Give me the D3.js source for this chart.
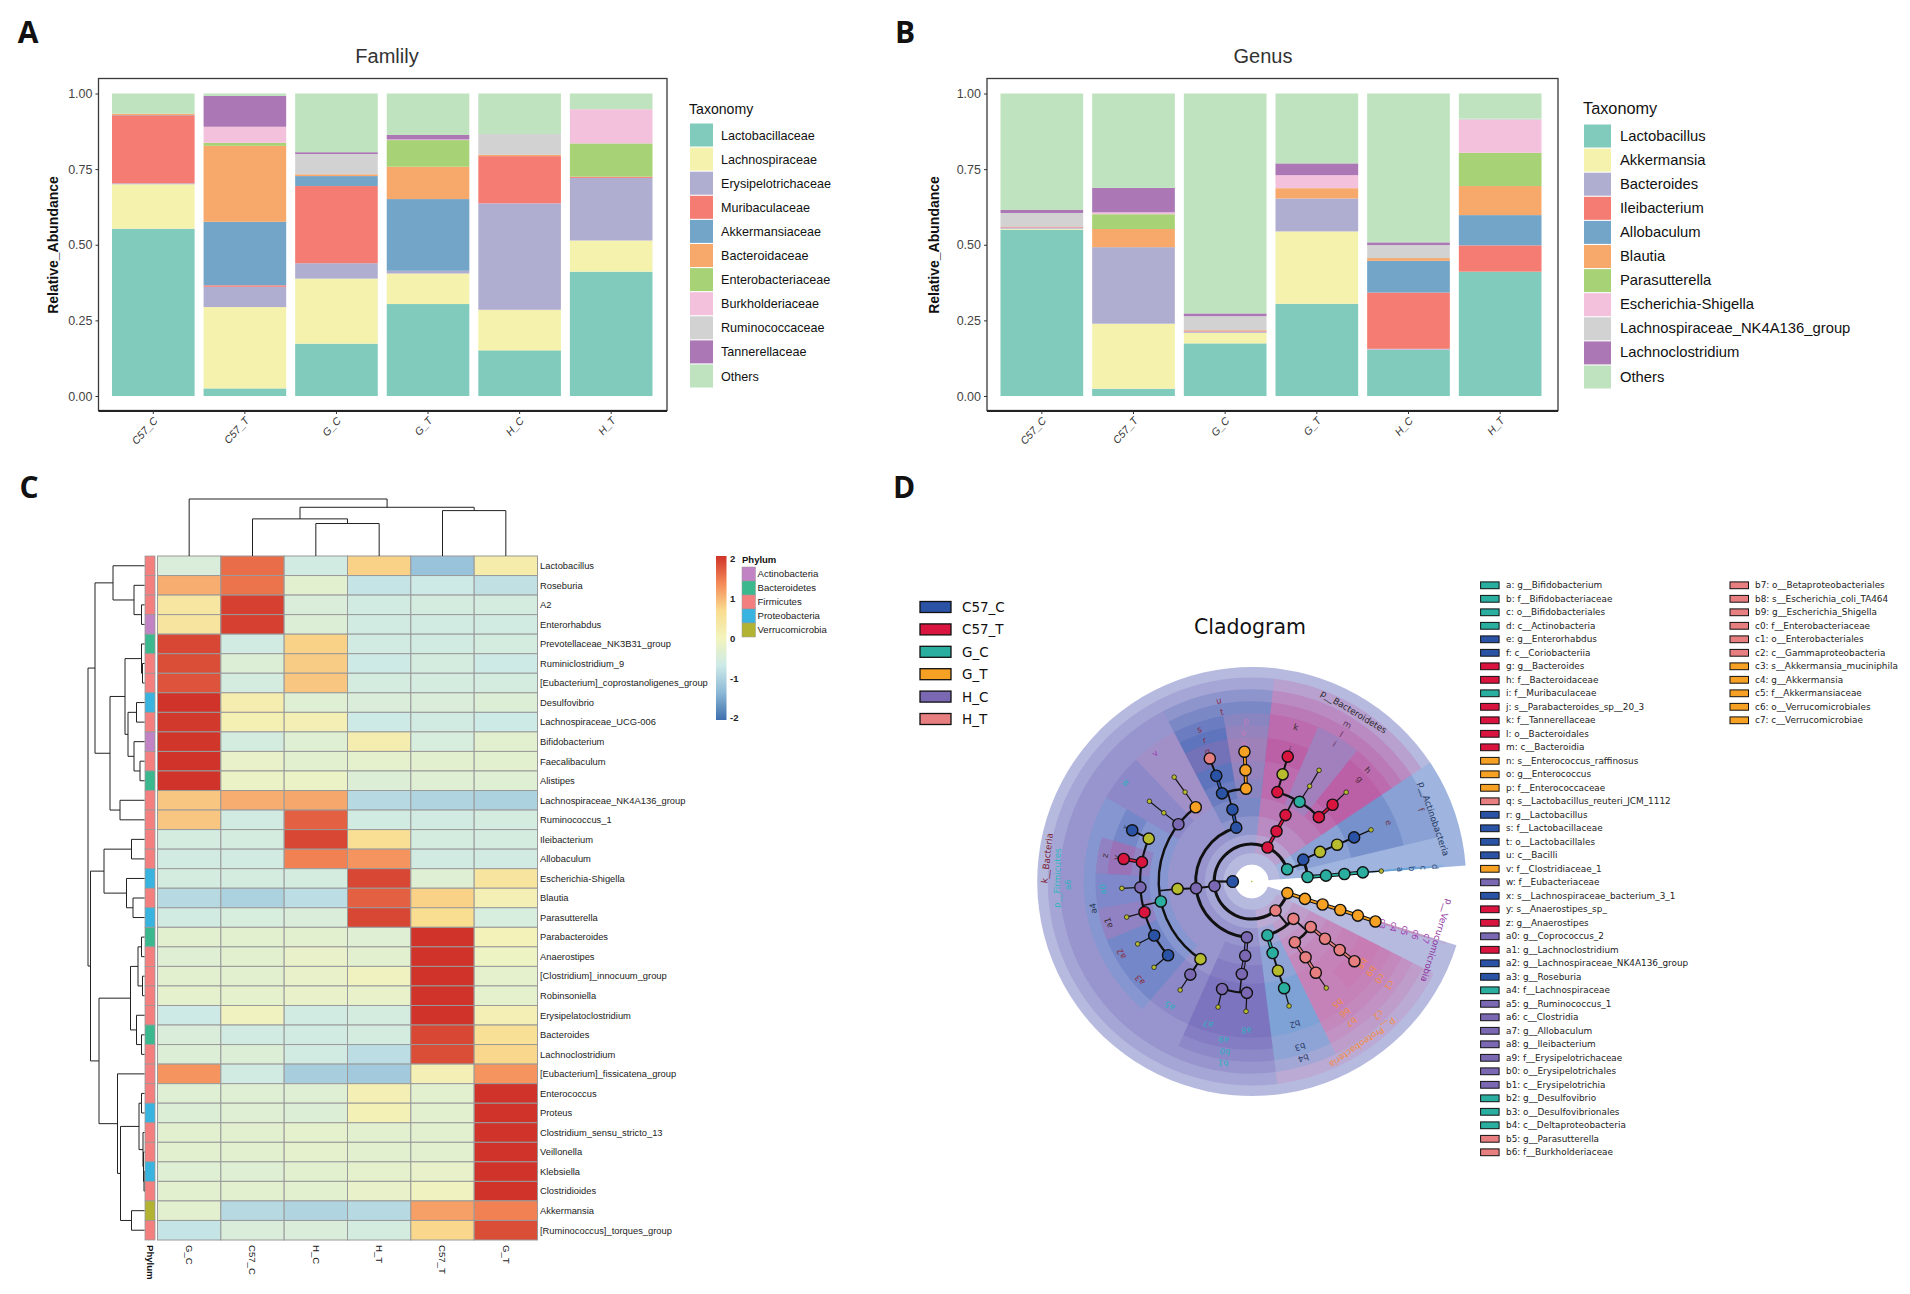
<!DOCTYPE html>
<html><head><meta charset="utf-8">
<script src="https://cdn.jsdelivr.net/npm/d3@7"></script>
<style>html,body{margin:0;padding:0;background:#fff}svg{display:block}</style>
</head><body><svg id="c" width="1910" height="1294"></svg>
<script>
// ---------- Data ----------
const samples = ["C57_C","C57_T","G_C","G_T","H_C","H_T"];
const yTicks = [0,0.25,0.5,0.75,1];
const familyNames = ["Lactobacillaceae","Lachnospiraceae","Erysipelotrichaceae","Muribaculaceae","Akkermansiaceae","Bacteroidaceae","Enterobacteriaceae","Burkholderiaceae","Ruminococcaceae","Tannerellaceae","Others"];
const familyValues = [
 [.553,.147,.003,.225,.001,.004,0,0,0,0,.067],
 [.025,.269,.067,.005,.21,.251,.01,.053,0,.102,.008],
 [.173,.215,.051,.255,.033,.006,0,0,.067,.006,.194],
 [.304,.101,.009,0,.237,.107,.088,.002,0,.015,.137],
 [.151,.134,.352,.156,0,.004,0,0,.069,0,.134],
 [.411,.103,.207,.003,0,.001,.11,.113,0,0,.052]];
const genusNames = ["Lactobacillus","Akkermansia","Bacteroides","Ileibacterium","Allobaculum","Blautia","Parasutterella","Escherichia-Shigella","Lachnospiraceae_NK4A136_group","Lachnoclostridium","Others"];
const genusValues = [
 [.55,.003,.004,.002,.001,.001,0,0,.044,.01,.385],
 [.024,.215,.253,0,0,.06,.049,.006,0,.081,.312],
 [.174,.035,.004,.002,.001,.002,0,0,.046,.009,.727],
 [.305,.239,.109,0,0,.034,0,.043,0,.039,.231],
 [.152,.001,.003,.186,.105,.009,0,0,.043,.009,.492],
 [.411,0,0,.087,.1,.096,.11,.109,.004,0,.083]];
const taxaColors = ["#80cbbc","#f4f2ad","#b0aed0","#f47c72","#73a5c9","#f6a96a","#a7d275","#f4c1dc","#d2d2d2","#ab78b5","#bfe2bf"];

const heatCols = ["G_C","C57_C","H_C","H_T","C57_T","G_T"];
const heatRows = ["Lactobacillus","Roseburia","A2","Enterorhabdus","Prevotellaceae_NK3B31_group","Ruminiclostridium_9","[Eubacterium]_coprostanoligenes_group","Desulfovibrio","Lachnospiraceae_UCG-006","Bifidobacterium","Faecalibaculum","Alistipes","Lachnospiraceae_NK4A136_group","Ruminococcus_1","Ileibacterium","Allobaculum","Escherichia-Shigella","Blautia","Parasutterella","Parabacteroides","Anaerostipes","[Clostridium]_innocuum_group","Robinsoniella","Erysipelatoclostridium","Bacteroides","Lachnoclostridium","[Eubacterium]_fissicatena_group","Enterococcus","Proteus","Clostridium_sensu_stricto_13","Veillonella","Klebsiella","Clostridioides","Akkermansia","[Ruminococcus]_torques_group"];
const heatValues = [
 [-.45,1.55,-.6,.75,-1.2,.25],[1.05,1.5,-.3,-.75,-.65,-.8],[.4,1.9,-.45,-.6,-.55,-.55],[.45,1.9,-.4,-.6,-.6,-.6],
 [1.85,-.6,.75,-.6,-.6,-.55],[1.8,-.4,.8,-.65,-.55,-.65],[1.75,-.55,.85,-.55,-.55,-.55],[2,.2,-.35,-.45,-.45,-.4],
 [1.95,.15,.1,-.65,-.6,-.65],[1.98,-.55,-.35,.2,-.5,-.3],[2,-.2,-.3,-.25,-.3,-.3],[2,-.15,-.15,-.4,-.35,-.35],
 [.85,1.05,1.1,-.9,-.95,-1],[.85,-.6,1.65,-.6,-.6,-.55],[-.55,-.55,1.85,.6,-.55,-.55],[-.6,-.6,1.4,1.25,-.6,-.6],
 [-.55,-.55,-.55,1.85,-.35,.45],[-.9,-1,-.85,1.65,.75,.1],[-.6,-.5,-.45,1.85,.65,-.5],[-.3,-.3,-.3,-.35,2,.05],
 [-.35,-.3,-.2,-.3,2,-.1],[-.3,-.3,-.2,-.05,2,-.25],[-.25,-.25,-.2,-.2,2,-.25],[-.65,-.05,-.6,-.55,2,.1],
 [-.45,-.6,-.6,-.55,1.85,.55],[-.4,-.4,-.6,-.85,1.8,.7],[1.25,-.6,-1.05,-1.1,.1,1.25],[-.35,-.35,-.35,.1,-.3,2],
 [-.4,-.35,-.4,.08,-.3,2],[-.3,-.3,-.25,-.3,-.3,2],[-.3,-.3,-.25,-.3,-.3,2],[-.35,-.35,-.3,-.25,-.2,2],
 [-.3,-.3,-.3,-.2,-.05,2],[-.3,-.9,-.95,-.9,1.15,1.4],[-.75,-.45,-.45,-.55,.7,1.8]];
const phylumNames = ["Actinobacteria","Bacteroidetes","Firmicutes","Proteobacteria","Verrucomicrobia"];
const phylumColors = ["#c183c3","#3cb88e","#f47f7f","#39b4e0","#b2b332"];
const rowPhylum = [2,2,2,0,1,2,2,3,2,0,2,1,2,2,2,2,3,2,3,1,2,2,2,2,1,2,2,2,3,2,2,3,2,4,2];
const heatTicks = [-2,-1,0,1,2];
// dendrograms: [height, childA, childB]; a number is a row / column index
const colTree = [172,0,[147,[112,1,[98,2,3]],[137,4,5]]];
const rowTree = [113,
 [99,[63,0,[21,1,[6,2,3]]],[69,[39,[6,4,[4,5,6]],[33,[16,7,8],[21,9,[9,10,11]]]],[49,12,13]]],
 [108,[81,[26,14,15],[36,16,[23,17,18]]],
  [91,[28,[13,[6,19,20],[4,21,22]],[16,23,[6,24,25]]],
      [54,26,[48,[11,[6,27,28],[3,29,[2,30,[1,31,32]]]],[26,33,34]]]]]];

const groupNames = ["C57_C","C57_T","G_C","G_T","H_C","H_T"];
const groupColors = ["#2a52a5","#d9143f","#2aae9f","#f6a123","#7a68b3","#e77e7f"];
const sectorColors = ["#2a4fa8","#be2f8c","#3a9ad8","#c878b0","#5f4fae","#cf66a4"];
const taxonLegend = [
["a","g__Bifidobacterium","G_C"],["b","f__Bifidobacteriaceae","G_C"],["c","o__Bifidobacteriales","G_C"],["d","c__Actinobacteria","G_C"],
["e","g__Enterorhabdus","C57_C"],["f","c__Coriobacteriia","C57_C"],["g","g__Bacteroides","C57_T"],["h","f__Bacteroidaceae","C57_T"],
["i","f__Muribaculaceae","G_C"],["j","s__Parabacteroides_sp__20_3","C57_T"],["k","f__Tannerellaceae","C57_T"],["l","o__Bacteroidales","C57_T"],
["m","c__Bacteroidia","C57_T"],["n","s__Enterococcus_raffinosus","G_T"],["o","g__Enterococcus","G_T"],["p","f__Enterococcaceae","G_T"],
["q","s__Lactobacillus_reuteri_JCM_1112","H_T"],["r","g__Lactobacillus","C57_C"],["s","f__Lactobacillaceae","C57_C"],["t","o__Lactobacillales","C57_C"],
["u","c__Bacilli","C57_C"],["v","f__Clostridiaceae_1","G_T"],["w","f__Eubacteriaceae","H_C"],["x","s__Lachnospiraceae_bacterium_3_1","C57_C"],
["y","s__Anaerostipes_sp_","C57_T"],["z","g__Anaerostipes","C57_T"],["a0","g__Coprococcus_2","H_C"],["a1","g__Lachnoclostridium","C57_T"],
["a2","g__Lachnospiraceae_NK4A136_group","C57_C"],["a3","g__Roseburia","C57_C"],["a4","f__Lachnospiraceae","G_C"],["a5","g__Ruminococcus_1","H_C"],
["a6","c__Clostridia","H_C"],["a7","g__Allobaculum","H_C"],["a8","g__Ileibacterium","H_C"],["a9","f__Erysipelotrichaceae","H_C"],
["b0","o__Erysipelotrichales","H_C"],["b1","c__Erysipelotrichia","H_C"],["b2","g__Desulfovibrio","G_C"],["b3","o__Desulfovibrionales","G_C"],
["b4","c__Deltaproteobacteria","G_C"],["b5","g__Parasutterella","H_T"],["b6","f__Burkholderiaceae","H_T"],
["b7","o__Betaproteobacteriales","H_T"],["b8","s__Escherichia_coli_TA464","H_T"],["b9","g__Escherichia_Shigella","H_T"],["c0","f__Enterobacteriaceae","H_T"],
["c1","o__Enterobacteriales","H_T"],["c2","c__Gammaproteobacteria","H_T"],["c3","s__Akkermansia_muciniphila","G_T"],["c4","g__Akkermansia","G_T"],
["c5","f__Akkermansiaceae","G_T"],["c6","o__Verrucomicrobiales","G_T"],["c7","c__Verrucomicrobiae","G_T"]];

// cladogram nodes: id, parent, taxonomic level, angle (deg), group (null = not enriched), tiny leaf?
const cladeNodes = [
["K",null,1,180,"C57_C"],
["pAct","K",2,19,"G_C"],["pBac","K",2,65,"C57_T"],["pFir","K",2,187,"H_C"],["pPro","K",2,309.5,"H_T"],["pVer","K",2,342,"G_T"],
["f","pAct",3,23,"C57_C"],["f1","f",4,23.4,null],["f2","f1",5,23.3,null],["e","f2",6,23.3,"C57_C"],["e1","e",7,23.4,null,1],
["d","pAct",3,4.6,"G_C"],["c","d",4,4.5,"G_C"],["b","c",5,4.6,"G_C"],["a","b",6,4.7,"G_C"],["a_","a",7,4.6,null,1],
["m","pBac",3,63.7,"C57_T"],["l","m",4,63,"C57_T"],
["i","l",5,59,"G_C"],["i1","i",6,58.7,null,1],["i2","i1",7,58.8,null,1],
["k","l",5,74,"C57_T"],["k1","k",6,73.9,null],["j","k1",7,73.9,"C57_T"],
["h","l",5,43.8,"C57_T"],["g","h",6,43.5,"C57_T"],["g1","g",7,43.4,null,1],
["u","pFir",3,106,"C57_C"],["t","u",4,105,"C57_C"],
["s","t",5,108.6,"C57_C"],["r","s",6,108.5,"C57_C"],["q","r",7,108.8,"H_T"],
["p","t",5,93.5,"G_T"],["o","p",6,93.2,"G_T"],["n","o",7,93.2,"G_T"],
["a6","pFir",3,187,"H_C"],["a6o","a6",4,185.7,null],
["v","a6o",5,127,"G_T"],["v1","v",6,126.7,null,1],["v2","v1",7,126.6,null,1],
["w","a6o",5,142,"H_C"],["w1","w",6,142,null,1],["w2","w1",7,141.9,null,1],
["a4","a6o",5,192.4,"G_C"],
["x1","a4",6,157.4,null],["x","x1",7,156.8,"C57_C"],
["z","a4",6,170,"C57_T"],["y","z",7,170,"C57_T"],
["a0","a4",6,183,"H_C"],["a0s","a0",7,183,null,1],
["a1","a4",6,196,"C57_T"],["a1s","a1",7,195.9,null,1],
["a2","a4",6,209,"C57_C"],["a2s","a2",7,208.7,null,1],
["a3","a4",6,221.4,"C57_C"],["a3s","a3",7,221.3,null,1],
["rF","a6o",5,236.6,null],["a5","rF",6,236.6,"H_C"],["a5s","a5",7,236.6,null,1],
["b1","pFir",3,265,"H_C"],["b0","b1",4,265,"H_C"],["a9","b0",5,263.9,"H_C"],
["a7","a9",6,254.6,"H_C"],["a7s","a7",7,255,null,1],["a8","a9",6,267.5,"H_C"],["a8s","a8",7,267.5,null,1],
["b4","pPro",3,286.3,"G_C"],["b3","b4",4,286.3,"G_C"],["b3f","b3",5,286.4,null],["b2","b3f",6,286.9,"G_C"],["b2s","b2",7,286.7,null,1],
["c2","pPro",3,318.2,"H_T"],
["c1","c2",4,322.4,"H_T"],["c0","c1",5,322,"H_T"],["b9","c0",6,322.1,"H_T"],["b8","b9",7,322.2,"H_T"],
["b7","c2",4,305.4,"H_T"],["b6","b7",5,305.4,"H_T"],["b5","b6",6,305.1,"H_T"],["b5s","b5",7,305,null,1],
["c7","pVer",3,341.9,"G_T"],["c6","c7",4,342,"G_T"],["c5","c6",5,342.2,"G_T"],["c4","c5",6,342.2,"G_T"],["c3","c4",7,342.1,"G_T"]];
// shaded clade sectors: node id, from angle, to angle
const cladeWedges = [
["K",4.3,342.7],["pAct",4.3,33.7],["pBac",33.7,83.7],["pFir",83.7,277.2],["pPro",277.2,333.2],["pVer",342,342.7],
["d",4.3,5],["c",4.3,5],["b",4.3,5],["a",4.3,5],["f",13.4,33.7],["e",13.4,33.7],
["m",33.7,83.7],["l",33.7,83.7],["i",51.2,66.8],["k",66.8,83.7],["j",66.8,83.7],["h",33.7,51.2],["g",33.7,51.2],
["u",83.7,117.5],["t",83.7,117.5],["s",99.7,117.5],["r",99.7,117.5],["q",99.7,117.5],["p",83.7,99.7],["o",83.7,99.7],["n",83.7,99.7],
["a6",117.5,246],["v",117.5,133.5],["w",133.5,150],["a4",150,229.5],["a5",229.5,246],
["x",150,163.5],["z",163.5,177],["y",163.5,177],["a0",177,190],["a1",190,202],["a2",202,215],["a3",215,229.5],
["b1",246,277.2],["b0",246,277.2],["a9",246,277.2],["a7",246,261],["a8",261,277.2],
["b4",277.2,296],["b3",277.2,296],["b2",277.2,296],
["c2",296,333.2],["c1",312,333.2],["b7",296,312],["c0",312,333.2],["b6",296,312],["b5",296,312],["b9",312,333.2],["b8",312,333.2],
["c7",342,342.7],["c6",342,342.7],["c5",342,342.7],["c4",342,342.7],["c3",342,342.7]];
// letter label text colours
const letterColors = {a:"#2a4a7a",b:"#2a4a7a",c:"#2a4a7a",d:"#2a4a7a",e:"#6e3a50",f:"#6e3a50",g:"#4a2a35",h:"#4a2a35",i:"#5a2a50",j:"#5a2a50",k:"#3a2a30",l:"#5a2a50",m:"#5a2a50",n:"#c878b8",o:"#c878b8",p:"#c878b8",q:"#8a2a40",r:"#8a2a40",s:"#8a2a40",t:"#8a2a40",u:"#8a2a40",v:"#a03ab0",w:"#30b0c0",x:"#2a4a7a",y:"#4a2a35",z:"#4a2a35",a0:"#30b0c0",a1:"#3a2a30",a2:"#8a2a40",a3:"#8a2a40",a4:"#2a3a5a",a5:"#30b0c0",a6:"#30b0c0",a7:"#30b0c0",a8:"#30b0c0",a9:"#30b0c0",b0:"#30b0c0",b1:"#30b0c0",b2:"#2a3a6a",b3:"#2a3a6a",b4:"#2a3a6a",b5:"#f58a3c",b6:"#f58a3c",b7:"#f58a3c",b8:"#f58a3c",b9:"#f58a3c",c0:"#f58a3c",c1:"#f58a3c",c2:"#f58a3c",c3:"#a03ab0",c4:"#a03ab0",c5:"#a03ab0",c6:"#a03ab0",c7:"#a03ab0"};
const letterAngles = {m:58.7,l:58.7,u:100.3,t:100,s:109,p:92,a6:181,a4:189.6,a9:260,b0:261,b1:261,a7:253,a8:268,c2:313.5,c1:323,b9:323,b8:323.4,c0:322.8,a0:183};
const phylumLabels = [["k__Bacteria",173.5,206,"#7c1a30"],["p__Firmicutes",179,194.5,"#2fb5c0"],["p__Bacteroidetes",59,198,"#2a2a2a"],["p__Actinobacteria",19,192.5,"#1e3560"],["p__Verrucomicrobia",342.3,194,"#8c2f9c"],["p__Proteobacteria",304.5,196,"#f58a3c"]];

// ---------- Drawing ----------
const svg = d3.select("#c");
const sans = "'Liberation Sans',Arial,sans-serif", dj = "'DejaVu Sans',sans-serif";
svg.append("rect").attr("width",1910).attr("height",1294).attr("fill","#fff");
[["A",28,43],["B",905,43],["C",29,498],["D",904,498]].forEach(d=>{
  svg.append("text").attr("x",d[1]).attr("y",d[2]).attr("text-anchor","middle")
    .attr("font-family","'Open Sans',sans-serif").attr("font-weight",700).attr("font-size",30).attr("fill","#111").text(d[0]);
});

function stackedPanel(o){
  const g = svg.append("g");
  const rows = samples.map((s,i)=>{const r={sample:s};o.names.forEach((n,j)=>r[n]=o.values[i][j]);return r;});
  const x = d3.scaleBand().domain(samples).range([o.barL,o.barR]).paddingInner(.098).paddingOuter(0);
  const y = d3.scaleLinear().domain([0,1]).range([396,93.5]);
  const series = d3.stack().keys(o.names)(rows);
  g.selectAll("g.s").data(series).join("g").attr("fill",(d,i)=>taxaColors[i])
    .selectAll("rect").data(d=>d).join("rect")
    .attr("x",d=>x(d.data.sample)).attr("width",x.bandwidth())
    .attr("y",d=>y(d[1])).attr("height",d=>Math.max(0,y(d[0])-y(d[1])));
  g.append("rect").attr("x",o.boxL).attr("y",78.5).attr("width",o.boxR-o.boxL).attr("height",332)
    .attr("fill","none").attr("stroke","#3a3a3a").attr("stroke-width",1.3);
  g.append("line").attr("x1",o.boxL).attr("x2",o.boxR).attr("y1",411).attr("y2",411).attr("stroke","#222").attr("stroke-width",2);
  const ya = g.append("g").attr("transform",`translate(${o.boxL},0)`).call(d3.axisLeft(y).tickValues(yTicks).tickFormat(d3.format(".2f")).tickSize(3).tickPadding(3));
  ya.select(".domain").remove();
  ya.selectAll("text").attr("font-family",sans).attr("font-size",12.5).attr("fill","#444");
  ya.selectAll("line").attr("stroke","#333");
  const xa = g.append("g").attr("transform",`translate(0,411)`).call(d3.axisBottom(x).tickSize(3));
  xa.select(".domain").remove();
  xa.selectAll("line").attr("stroke","#333");
  xa.selectAll("text").attr("font-family",sans).attr("font-size",10.5).attr("font-style","italic").attr("fill","#333")
    .attr("text-anchor","end").attr("dx",0).attr("dy",0).attr("y",0).attr("x",0)
    .attr("transform","translate(5,10) rotate(-48)");
  g.append("text").attr("x",o.titleX).attr("y",63).attr("text-anchor","middle").attr("font-family",sans).attr("font-size",20).attr("fill","#333").text(o.title);
  g.append("text").attr("transform",`translate(${o.yTitleX},245) rotate(-90)`).attr("text-anchor","middle").attr("font-family",sans)
    .attr("font-weight",700).attr("font-size",14).attr("fill","#111").text("Relative_Abundance");
  g.append("text").attr("x",o.legX).attr("y",114).attr("font-family",sans).attr("font-size",o.legFont+1.5).attr("fill","#111").text("Taxonomy");
  const ly = d3.scalePoint().domain(o.names).range([o.legY,o.legY+241]);
  const le = g.selectAll("g.l").data(o.names).join("g");
  le.append("rect").attr("x",o.legX+1).attr("y",d=>ly(d)-11.5).attr("width",o.swW).attr("height",23).attr("fill",(d,i)=>taxaColors[i]);
  le.append("text").attr("x",o.legX+o.txtOff).attr("y",d=>ly(d)+4.5).attr("font-family",sans).attr("font-size",o.legFont).attr("fill","#111").text(d=>d);
}
stackedPanel({title:"Famlily",names:familyNames,values:familyValues,barL:112,barR:652.5,boxL:98.5,boxR:667,titleX:387,yTitleX:58,legX:689,legY:135,swW:23,txtOff:32,legFont:12.6});
stackedPanel({title:"Genus",names:genusNames,values:genusValues,barL:1000.5,barR:1541.5,boxL:987,boxR:1558,titleX:1263,yTitleX:939,legX:1583,legY:136,swW:27,txtOff:37,legFont:14.8});

// ---------- Heatmap ----------
const hm = svg.append("g");
const palette = ["#3f6fae","#8cb9d6","#cdeae8","#f3f4bc","#f9dc8f","#f58a58","#cf3329"];
const heatColor = d3.scaleLinear().domain([-2,-1.33,-.67,0,.67,1.33,2]).range(palette);
const hx = d3.scaleBand().domain(heatCols).range([157.5,537.5]);
const hy = d3.scaleBand().domain(heatRows).range([556,1240]);
heatValues.forEach((row,i)=>row.forEach((v,j)=>{
  hm.append("rect").attr("x",hx(heatCols[j])).attr("y",hy(heatRows[i])).attr("width",hx.bandwidth()).attr("height",hy.bandwidth())
    .attr("fill",heatColor(v)).attr("stroke","#9a9a9a").attr("stroke-width",1);
}));
hm.selectAll("rect.p").data(rowPhylum).join("rect").attr("x",145).attr("width",10).attr("y",(d,i)=>hy(heatRows[i])).attr("height",hy.bandwidth())
  .attr("fill",d=>phylumColors[d]).attr("stroke","#9a9a9a").attr("stroke-width",.8);
hm.selectAll("text.r").data(heatRows).join("text").attr("x",540).attr("y",d=>hy(d)+hy.bandwidth()/2+3.3)
  .attr("font-family",sans).attr("font-size",9.35).attr("fill","#222").text(d=>d);
hm.selectAll("text.c").data(heatCols).join("text").attr("font-family",sans).attr("font-size",9.6).attr("font-weight",400).attr("fill","#222")
  .attr("transform",d=>`translate(${hx(d)+hx.bandwidth()/2-3.3},1245) rotate(90)`).text(d=>d);
hm.append("text").attr("transform","translate(146.5,1245) rotate(90)").attr("font-family",sans).attr("font-size",9.6).attr("font-weight",700).attr("fill","#111").text("Phylum");

// dendrograms from nested merges
function toH(n){return typeof n==="number"?{leaf:n,h:0}:{h:n[0],children:[toH(n[1]),toH(n[2])]};}
function drawTree(tree,leafPos,depthScale,horizontal){
  const root = d3.hierarchy(toH(tree));
  root.eachAfter(d=>{d.p = d.children ? d3.mean(d.children,c=>c.p) : leafPos(d.data.leaf);});
  const pt=(p,h)=>horizontal?[depthScale(h),p]:[p,depthScale(h)];
  root.descendants().filter(d=>d.children).forEach(d=>{
    const [a,b]=d.children;
    const pts=[pt(a.p,a.data.h),pt(a.p,d.data.h),pt(b.p,d.data.h),pt(b.p,b.data.h)];
    hm.append("path").attr("d",d3.line()(pts)).attr("fill","none").attr("stroke","#222").attr("stroke-width",1);
  });
}
drawTree(colTree,i=>hx(heatCols[i])+hx.bandwidth()/2,d3.scaleLinear().domain([0,172]).range([556,499]),false);
drawTree(rowTree,i=>hy(heatRows[i])+hy.bandwidth()/2,d3.scaleLinear().domain([0,113]).range([144.5,88]),true);

// colour bar + phylum legend
const defs = svg.append("defs");
const lg = defs.append("linearGradient").attr("id","cb").attr("x1",0).attr("x2",0).attr("y1",1).attr("y2",0);
heatColor.domain().forEach(v=>lg.append("stop").attr("offset",(v+2)/4).attr("stop-color",heatColor(v)));
hm.append("rect").attr("x",716).attr("y",556).attr("width",10.5).attr("height",164).attr("fill","url(#cb)");
const cy = d3.scaleLinear().domain([-2,2]).range([718,559]);
hm.selectAll("text.t").data(heatTicks).join("text").attr("x",730).attr("y",d=>cy(d)+3.3).attr("font-family",sans).attr("font-size",9.5).attr("font-weight",700).attr("fill","#222").text(d=>d);
hm.append("text").attr("x",742).attr("y",563).attr("font-family",sans).attr("font-size",9.5).attr("font-weight",700).attr("fill","#111").text("Phylum");
const py = d3.scaleBand().domain(phylumNames).range([567,637]);
hm.selectAll("rect.pl").data(phylumNames).join("rect").attr("x",742).attr("width",13.5).attr("y",d=>py(d)).attr("height",py.bandwidth()).attr("fill",(d,i)=>phylumColors[i]).attr("stroke","#999").attr("stroke-width",.5);
hm.selectAll("text.pl").data(phylumNames).join("text").attr("x",757.5).attr("y",d=>py(d)+py.bandwidth()/2+3.3).attr("font-family",sans).attr("font-size",9.6).attr("fill","#222").text(d=>d);

// ---------- Cladogram ----------
const D = svg.append("g");
const grpColor = d3.scaleOrdinal().domain(groupNames).range(groupColors);
const secColor = d3.scaleOrdinal().domain(groupNames).range(sectorColors);
const gy = d3.scalePoint().domain(groupNames).range([607,719]);
const ge = D.selectAll("g.g").data(groupNames).join("g");
ge.append("rect").attr("x",920).attr("y",d=>gy(d)-5.5).attr("width",31).attr("height",11).attr("fill",d=>grpColor(d)).attr("stroke","#111").attr("stroke-width",1.3);
ge.append("text").attr("x",962).attr("y",d=>gy(d)+5).attr("font-family",dj).attr("font-size",13.5).attr("fill","#111").text(d=>d);
D.append("text").attr("x",1250).attr("y",634).attr("text-anchor","middle").attr("font-family",dj).attr("font-size",20.5).attr("fill","#111").text("Cladogram");

const col1 = taxonLegend.slice(0,43), col2 = taxonLegend.slice(43);
[[col1,1480.6,1506],[col2,1730,1755]].forEach(([rows,sx,tx])=>{
  const ty = d3.scaleLinear().domain([0,1]).range([585.3,598.8]);
  const e = D.append("g").selectAll("g").data(rows).join("g");
  e.append("rect").attr("x",sx).attr("y",(d,i)=>ty(i)-3.4).attr("width",18.5).attr("height",6.8).attr("fill",d=>grpColor(d[2])).attr("stroke","#111").attr("stroke-width",1);
  e.append("text").attr("x",tx).attr("y",(d,i)=>ty(i)+3).attr("font-family",dj).attr("font-size",8.9).attr("fill","#222").text(d=>d[0]+": "+d[1]);
});

const cl = D.append("g").attr("transform","translate(1251.7,881.5)");
const rad = d3.scaleLinear().domain([1,7]).range([19,130]);
const wedgeOut = d3.scaleLinear().domain([1,2,7]).range([214.5,204,144.3]);
const labelR = d3.scaleLinear().domain([3,7]).range([184,137.5]);
const nodeBy = new Map(cladeNodes.map(n=>[n[0],{id:n[0],parent:n[1],level:n[2],angle:n[3],group:n[4],tiny:!!n[5]}]));
const toRad = a=>(90-a)*Math.PI/180;
const polar = (r,a)=>[r*Math.cos(a*Math.PI/180),-r*Math.sin(a*Math.PI/180)];
const wedgeArc = d3.arc();
cladeWedges.forEach(([id,a0,a1])=>{
  const n=nodeBy.get(id);
  const outer = id==="pAct" ? wedgeOut(1) : wedgeOut(n.level);
  cl.append("path").attr("d",wedgeArc({innerRadius:n.level===1?16.7:rad(n.level)-9.2,outerRadius:outer,startAngle:toRad(a1),endAngle:toRad(a0)}))
    .attr("fill",n.level===1?"#4a52ae":secColor(n.group)).attr("fill-opacity",n.level===1?.4:.19);
});
// branches
const arcW = d3.scaleLinear().domain([2,7]).range([3.2,1.9]);
const byParent = d3.group([...nodeBy.values()].filter(n=>n.parent),n=>n.parent);
byParent.forEach((kids,pid)=>{
  const p=nodeBy.get(pid), L=kids[0].level, r=rad(L);
  if(kids.length>1){
    const as=kids.map(k=>k.angle), lo=d3.min(as), hi=d3.max(as);
    cl.append("path").attr("d",d3.arc()({innerRadius:r,outerRadius:r,startAngle:toRad(hi),endAngle:toRad(lo)}))
      .attr("fill","none").attr("stroke","#111").attr("stroke-width",arcW(L));
    cl.append("line").datum(0).attr("x1",polar(rad(p.level),p.angle)[0]).attr("y1",polar(rad(p.level),p.angle)[1])
      .attr("x2",polar(r,p.angle)[0]).attr("y2",polar(r,p.angle)[1]).attr("stroke","#111").attr("stroke-width",arcW(L)*.7);
  } else {
    const k=kids[0], a=polar(rad(p.level),p.angle), b=polar(r,k.angle);
    const same=k.group&&p.group===k.group;
    cl.append("line").attr("x1",a[0]).attr("y1",a[1]).attr("x2",b[0]).attr("y2",b[1]).attr("stroke","#111").attr("stroke-width",k.tiny?1.2:same?3.8:2);
    if(same) cl.append("line").attr("x1",a[0]).attr("y1",a[1]).attr("x2",b[0]).attr("y2",b[1]).attr("stroke",grpColor(k.group)).attr("stroke-width",1.7);
  }
});
// letter labels
cladeNodes.forEach(([id,,L,ang])=>{
  if(!letterColors[id]) return;
  const a=letterAngles[id]!==undefined?letterAngles[id]:ang, p=polar(labelR(L),a);
  cl.append("text").attr("transform",`translate(${p[0]},${p[1]}) rotate(${90-a})`).attr("text-anchor","middle").attr("dy",3)
    .attr("font-family",dj).attr("font-size",8.5).attr("fill",letterColors[id]).text(id);
});
phylumLabels.forEach(([t,a,r,c])=>{
  const p=polar(r,a);
  cl.append("text").attr("transform",`translate(${p[0]},${p[1]}) rotate(${90-a})`).attr("text-anchor","middle").attr("dy",3)
    .attr("font-family",dj).attr("font-size",8.8).attr("fill",c).text(t);
});
// nodes
cl.selectAll("circle.n").data([...nodeBy.values()]).join("circle")
  .attr("cx",d=>polar(rad(d.level),d.angle)[0]).attr("cy",d=>polar(rad(d.level),d.angle)[1])
  .attr("r",d=>d.tiny?2.3:5.6).attr("fill",d=>d.group?grpColor(d.group):"#b7bb2e").attr("stroke","#111").attr("stroke-width",d=>d.tiny?.7:1.4);
cl.append("circle").attr("r",16.7).attr("fill","#fff");
cl.append("circle").attr("r",.8).attr("fill","#b7bb2e");
cl.append("circle").attr("cx",polar(rad(1),180)[0]).attr("cy",0).attr("r",5.8).attr("fill",grpColor("C57_C")).attr("stroke","#111").attr("stroke-width",1.3);
</script></body></html>
